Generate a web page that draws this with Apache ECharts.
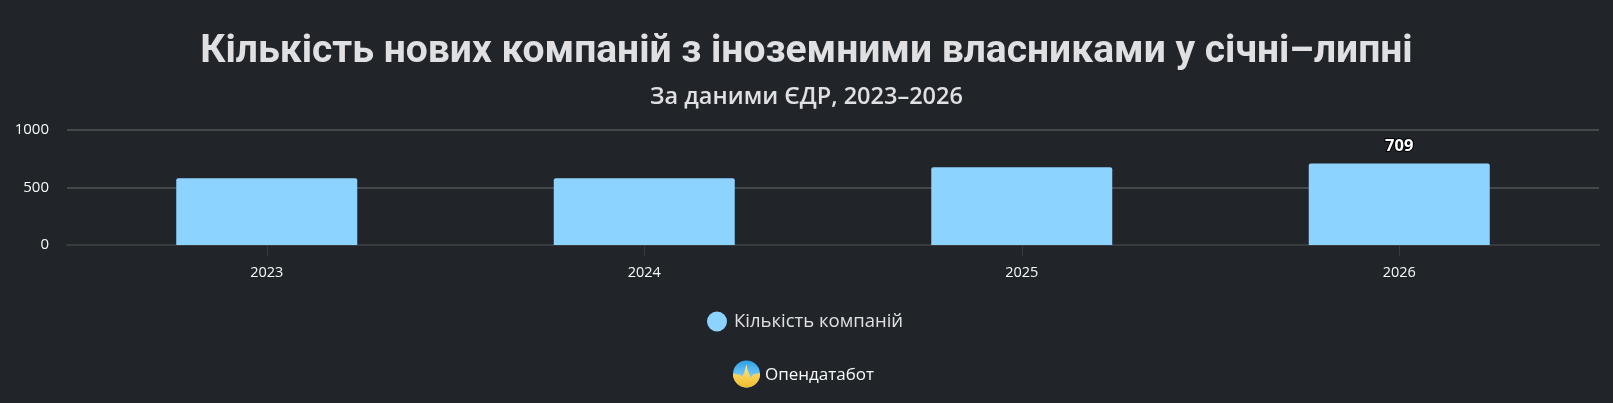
<!DOCTYPE html>
<html><head><meta charset="utf-8">
<style>html,body{margin:0;padding:0;background:#212529}#c{width:1613px;height:403px}</style>
<script src="https://cdn.jsdelivr.net/npm/echarts@6/dist/echarts.min.js"></script>
</head><body><div id="c"></div>
<script>
const categories=['2023','2024','2025','2026'];
const companies=[580,581,677,709];
const yTicks=[0,500,1000];
const seriesName='Кількість компаній';
const titleText='Кількість нових компаній з іноземними власниками у січні–липні';
const subtitleText='За даними ЄДР, 2023–2026';
const brandText='Опендатабот';
const FONT='"Open Sans","Noto Sans",sans-serif';
const logoWave=[[0.1,13],[6,14],[9,15.5],[11,13],[12.5,7],[13.5,4],[14.5,9],[16,13],[18,17],[20,14],[26.9,12.5]];
const logoArc=[];
for(let a=-3;a<=183;a+=6){logoArc.push([13.5+13.5*Math.cos(a*Math.PI/180),13.5+13.5*Math.sin(a*Math.PI/180)]);}
const chart=echarts.init(document.getElementById('c'),null,{renderer:'canvas'});
chart.setOption({
 animation:false,
 backgroundColor:'#212529',
 title:[
  {text:titleText,left:'center',top:28,textStyle:{color:'#e0e0e3',fontFamily:'Roboto,sans-serif',fontWeight:700,fontSize:39}},
  {text:subtitleText,left:'center',top:80,textStyle:{color:'#e0e0e3',fontFamily:FONT,fontWeight:600,fontSize:23.5}}],
 grid:[{left:67,right:14,top:130,height:115},{left:78,right:25,top:130,height:115}],
 legend:{top:306.5,left:702,icon:'circle',itemWidth:24,itemHeight:20,itemGap:7,
  textStyle:{color:'#e0e0e3',fontFamily:FONT,fontSize:18.5},data:[seriesName]},
 xAxis:[
  {gridIndex:0,type:'value',min:0,max:1,splitLine:{show:false},axisTick:{show:false},axisLabel:{show:false},
   axisLine:{show:true,lineStyle:{color:'#373b3e',width:2}}},
  {gridIndex:1,type:'category',data:categories,axisLine:{show:false},
   axisTick:{show:true,alignWithLabel:true,length:11,lineStyle:{color:'#373b3e'}},
   axisLabel:{color:'#f8f9fa',fontFamily:FONT,fontSize:14.5,margin:20}}],
 yAxis:[
  {gridIndex:0,type:'value',min:yTicks[0],max:yTicks[2],interval:yTicks[1],
   axisLine:{show:false},axisTick:{show:false},
   splitLine:{lineStyle:{color:'#454849',width:2}},
   axisLabel:{color:'#f8f9fa',fontFamily:FONT,fontSize:15,margin:18,formatter:v=>String(v)}},
  {gridIndex:1,type:'value',min:yTicks[0],max:yTicks[2],interval:yTicks[1],
   axisLine:{show:false},axisTick:{show:false},splitLine:{show:false},axisLabel:{show:false}}],
 series:[{name:seriesName,type:'bar',xAxisIndex:1,yAxisIndex:1,data:companies,barWidth:181,
  itemStyle:{color:'#8dd3ff',borderRadius:[2,2,0,0]},
  label:{show:true,position:'top',distance:9,color:'#fff',fontFamily:FONT,fontWeight:700,fontSize:16.5,
   textBorderColor:'#000',textBorderWidth:2,
   formatter:p=>p.dataIndex===categories.length-1?p.value:''}}],
 graphic:[{type:'group',left:733,top:360.5,children:[
  {type:'circle',shape:{cx:13.5,cy:13.5,r:13.5},style:{fill:new echarts.graphic.LinearGradient(0,0,0,1,[{offset:0,color:'#2f9fe8'},{offset:0.5,color:'#6cc4f5'}])}},
  {type:'polygon',shape:{points:logoWave.concat(logoArc)},
   style:{fill:new echarts.graphic.LinearGradient(0,0,0,1,[{offset:0,color:'#ffe680'},{offset:1,color:'#f0bd2e'}])}}]},
  {type:'text',left:765,top:367,style:{text:brandText,fill:'#f8f9fa',font:'500 17px '+FONT}}]
});
</script></body></html>
